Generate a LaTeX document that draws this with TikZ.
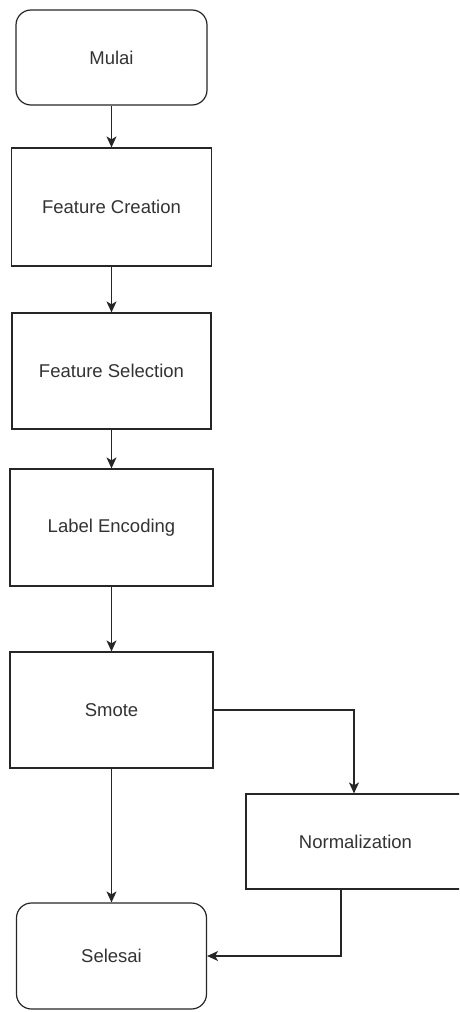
\documentclass[tikz,border=0pt]{standalone}
\usepackage{fontspec}
\setmainfont{Liberation Sans}
\usetikzlibrary{arrows.meta}
\begin{document}
\begin{tikzpicture}[x=1pt,y=-1pt,
  base/.style={draw=black!85, line width=1.2pt, fill=white, text=black!80,
    font=\fontsize{18.5}{22}\selectfont, inner sep=0pt, anchor=center},
  procbox/.style={base},
  termbox/.style={base, rounded corners=15pt},
  flow/.style={draw=black!85, line width=1.2pt,
    -{Stealth[length=11pt,width=10pt,inset=3pt]}}]
  \useasboundingbox (0,0) rectangle (459,1012);
  \begin{scope}
  \clip (0,0) rectangle (459,1012);
  \node[termbox, minimum width=191pt, minimum height=95pt] (mulai) at (111.5,57.5) {Mulai};
  \node[procbox, minimum width=200pt, minimum height=118pt] (fc) at (111.5,207) {Feature Creation};
  \node[procbox, minimum width=199pt, minimum height=116pt] (fs) at (111.5,371) {Feature Selection};
  \node[procbox, minimum width=203pt, minimum height=117pt] (le) at (111.5,527.5) {Label Encoding};
  \node[procbox, minimum width=203pt, minimum height=116pt] (smote) at (111.5,710) {Smote};
  \node[procbox, minimum width=219pt, minimum height=95pt] (norm) at (355.5,841.5) {Normalization};
  \node[termbox, minimum width=190pt, minimum height=106pt] (selesai) at (111.5,956) {Selesai};

  \draw[flow] (mulai) -- (fc);
  \draw[flow] (fc) -- (fs);
  \draw[flow] (fs) -- (le);
  \draw[flow] (le) -- (smote);
  \draw[flow] (smote) -- (selesai);
  \draw[flow] (smote.east) -| ([xshift=-1.5pt]norm.north);
  \coordinate (nb) at ([xshift=-14.5pt]norm.south);
  \draw[flow] (nb) |- (selesai.east);
  \end{scope}
\end{tikzpicture}
\end{document}
